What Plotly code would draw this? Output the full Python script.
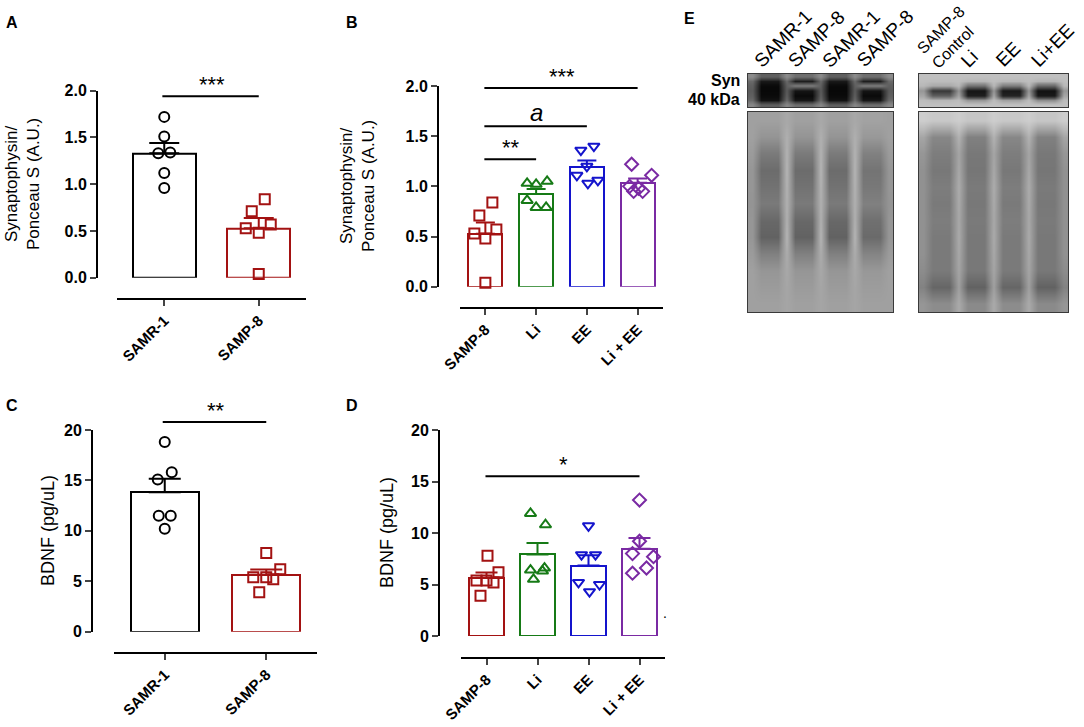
import numpy as np
import plotly.graph_objects as go

W, H = 1084, 727

# ---------------- data ----------------
groups_strain = ["SAMR-1", "SAMP-8"]
groups_treat = ["SAMP-8", "Li", "EE", "Li + EE"]

# synaptophysin / ponceau S (A.U.)
syn_samr1 = [1.72, 1.51, 1.33, 1.34, 1.12, 0.96]
syn_samp8 = [0.84, 0.71, 0.53, 0.57, 0.48, 0.04]
syn_li = [1.03, 1.02, 1.05, 0.86, 0.79, 0.79]
syn_ee = [1.36, 1.40, 1.20, 1.11, 1.03, 1.06]
syn_liee = [1.22, 1.11, 0.95, 0.95, 0.98, 1.00]

# BDNF (pg/uL)
bdnf_samr1 = [18.8, 15.8, 15.1, 11.5, 11.5, 10.2]
bdnf_samp8 = [7.8, 6.2, 5.4, 5.4, 5.2, 3.9]
bdnf_li = [11.9, 10.8, 6.4, 6.6, 6.3, 5.5]
bdnf_ee = [10.7, 7.9, 7.9, 5.2, 5.0, 4.3]
bdnf_liee = [13.2, 9.2, 8.0, 7.7, 6.6, 6.1]

# significance brackets: (from group, to group, level, label)
sig_a = [(0, 1, 1.94, "***")]
sig_b = [(0, 3, 1.98, "***"), (0, 2, 1.60, "<i>a</i>"), (0, 1, 1.27, "**")]
sig_c = [(0, 1, 20.8, "**")]
sig_d = [(0, 3, 15.5, "*")]

# western blot (gray levels 0-255, rows top -> bottom)
blot_lanes_left = ["SAMR-1", "SAMP-8", "SAMR-1", "SAMP-8"]
blot_lanes_right = ["SAMP-8<br>Control", "Li", "EE", "Li+EE"]

syn_gap_left = [140, 105, 95, 90, 95, 105, 135]
syn_samr1_lane = [95, 25, 10, 8, 10, 18, 95]
syn_samp8_lane = [110, 30, 125, 20, 10, 22, 110]
syn_gap_right = [192, 190, 184, 150, 165, 188, 192]
syn_ctrl_lane = [192, 188, 170, 55, 95, 182, 192]
syn_li_lane = [192, 182, 115, 22, 30, 150, 192]
syn_ee_lane = [192, 184, 125, 25, 35, 160, 192]
syn_liee_lane = [192, 180, 105, 18, 25, 140, 192]

pon_edge_left = [160, 160, 155, 150, 150, 148, 150, 150, 155, 160, 160, 160]
pon_streak_left = [168, 175, 178, 180, 178, 176, 176, 180, 172, 168, 166, 165]
pon_lane_a = [160, 148, 122, 108, 114, 122, 104, 98, 128, 150, 155, 160]
pon_lane_b = [162, 152, 128, 116, 120, 128, 112, 106, 132, 152, 156, 160]
pon_edge_right = [205, 165, 150, 145, 145, 145, 145, 145, 145, 140, 130, 150]
pon_streak_right = [205, 178, 165, 168, 172, 170, 168, 170, 168, 165, 160, 170]
pon_lane_c = [200, 135, 125, 120, 125, 122, 125, 122, 122, 122, 102, 140]
pon_lane_d = [198, 128, 120, 118, 122, 120, 122, 120, 120, 120, 98, 138]

RED, GREEN, BLUE, PURPLE = "#a31212", "#167a16", "#1414cc", "#7a2aa3"
FONT = "Liberation Sans, Arial, sans-serif"


def fx(px):
    return px / W


def fy(py):
    return 1 - py / H


fig = go.Figure()


def bar_panel(n, groups, series, colors, symbols, jitter_px, xdom, ydom,
              yax_px, xax_py, ymax, dtick, fmt, cap):
    xa = "x" if n == 1 else "x%d" % n
    ya = "y" if n == 1 else "y%d" % n
    px_per_unit = (xdom[1] - xdom[0]) / len(groups)
    for i, (vals, col, sym, jit) in enumerate(zip(series, colors, symbols, jitter_px)):
        v = np.array(vals)
        mean = v.mean()
        sem = v.std(ddof=1) / np.sqrt(len(v))
        fig.add_trace(go.Bar(
            x=[i], y=[mean], width=0.67, xaxis=xa, yaxis=ya,
            marker=dict(color="white", line=dict(color=col, width=2)),
            error_y=dict(type="data", symmetric=False, array=[sem], arrayminus=[0],
                         color=col, thickness=2, width=cap),
            showlegend=False, hoverinfo="skip"))
        fig.add_trace(go.Scatter(
            x=i + np.array(jit) / px_per_unit, y=v, mode="markers",
            xaxis=xa, yaxis=ya, cliponaxis=False, showlegend=False,
            marker=dict(symbol=sym, size=10, color=col, line=dict(color=col, width=2))))
    lay = {}
    lay["xaxis" if n == 1 else "xaxis%d" % n] = dict(
        domain=[fx(xdom[0]), fx(xdom[1])], anchor="free", position=fy(xax_py),
        range=[-0.5, len(groups) - 0.5], tickvals=list(range(len(groups))),
        ticktext=groups, tickangle=-45, ticks="outside", ticklen=6, tickwidth=2,
        showline=True, linewidth=2, linecolor="black", showgrid=False, zeroline=False,
        automargin=False,
        tickfont=dict(family=FONT, size=15, color="black", weight="bold"))
    lay["yaxis" if n == 1 else "yaxis%d" % n] = dict(
        domain=[fy(ydom[1]), fy(ydom[0])], anchor="free", position=fx(yax_px),
        range=[0, ymax], dtick=dtick, tickformat=fmt, ticks="outside", ticklen=6,
        tickwidth=2, showline=True, linewidth=2, linecolor="black", showgrid=False,
        zeroline=False, automargin=False,
        tickfont=dict(family=FONT, size=16, color="black", weight="bold"))
    fig.update_layout(**lay)
    return xa, ya


def add_sig(xa, ya, ymax, sigs, size):
    for a, b, lev, lab in sigs:
        fig.add_shape(type="line", xref=xa, yref=ya + " domain", x0=a - 0.02, x1=b,
                      y0=lev / ymax, y1=lev / ymax, line=dict(color="black", width=2))
        big = lab.startswith("<i>")
        fig.add_annotation(xref=xa, yref=ya + " domain", x=(a + b) / 2, y=lev / ymax,
                           text=lab, showarrow=False, xanchor="center", yanchor="bottom",
                           yshift=-3 if not big else -2,
                           font=dict(family=FONT, size=24 if big else size, color="black"))


# A
xa, ya = bar_panel(1, groups_strain, [syn_samr1, syn_samp8], ["black", RED],
                   ["circle-open", "square-open"],
                   [[0, 0, -6, 6, 0, 0], [6, -7, -13, 12, 0, 0]],
                   (117, 306), (90.7, 277.7), 97, 299, 2.0, 0.5, ".1f", 15)
add_sig(xa, ya, 2.0, sig_a, 22)

# B
xb, yb = bar_panel(2, groups_treat, [syn_samp8, syn_li, syn_ee, syn_liee],
                   [RED, GREEN, BLUE, PURPLE],
                   ["square-open", "triangle-up-open", "triangle-down-open", "diamond-open"],
                   [[7, -6, -11, 11, 0, 0], [-9, 0, 11, -9, 0, 10],
                    [-6, 7, 0, -10, 1, 11], [-6, 14, -4, 5, 1, -8]],
                   (460, 663), (86, 286.7), 438, 308, 2.0, 0.5, ".1f", 9.5)
add_sig(xb, yb, 2.0, sig_b, 22)

# C
xc, yc = bar_panel(3, groups_strain, [bdnf_samr1, bdnf_samp8], ["black", RED],
                   ["circle-open", "square-open"],
                   [[0, 7, -7, -6, 6, 0], [0, 14, -13, 0, 7, -7]],
                   (114, 317), (430, 631.7), 92, 653, 20, 5, "d", 16)
add_sig(xc, yc, 20, sig_c, 22)

# D
xd, yd = bar_panel(4, groups_treat, [bdnf_samp8, bdnf_li, bdnf_ee, bdnf_liee],
                   [RED, GREEN, BLUE, PURPLE],
                   ["square-open", "triangle-up-open", "triangle-down-open", "diamond-open"],
                   [[1, 12, -10, 0, 7, -6], [-7, 8, -7, 7, 5, -4],
                    [0, -7, 7, -10, 11, 1], [0, 0, -7, 14, 7, -7]],
                   (461, 665), (430, 636), 439, 658, 20, 5, "d", 11)
add_sig(xd, yd, 20, sig_d, 22)
fig.add_annotation(xref="x4 domain", yref="y4", x=1.02, y=2.2, text=".",
                   showarrow=False, font=dict(family=FONT, size=14, color="black"))

# y-axis titles
for x_px, y_px, txt, sz in [(22, 184, "Synaptophysin/<br>Ponceau S (A.U.)", 17),
                            (357, 186, "Synaptophysin/<br>Ponceau S (A.U.)", 17),
                            (48, 531, "BDNF (pg/uL)", 18),
                            (387, 533, "BDNF (pg/uL)", 18)]:
    fig.add_annotation(xref="paper", yref="paper", x=fx(x_px), y=fy(y_px), text=txt,
                       textangle=-90, showarrow=False, xanchor="center", yanchor="middle",
                       font=dict(family=FONT, size=sz, color="black"))

# panel letters
for x_px, y_px, txt in [(12, 23, "A"), (352, 23, "B"), (12, 405, "C"),
                        (352, 405, "D"), (689, 18, "E")]:
    fig.add_annotation(xref="paper", yref="paper", x=fx(x_px), y=fy(y_px), text="<b>%s</b>" % txt,
                       showarrow=False, xanchor="center", yanchor="middle",
                       font=dict(family=FONT, size=16, color="black"))


# ---------------- panel E: blots ----------------
def columns(edge, lanes, gap):
    cols = [edge]
    for k, ln in enumerate(lanes):
        cols += [ln, ln, ln]
        cols.append(gap if k < len(lanes) - 1 else edge)
    return np.array(cols).T


blots = [
    (5, (748, 893), (74, 107), columns(syn_gap_left, [syn_samr1_lane, syn_samp8_lane,
                                                      syn_samr1_lane, syn_samp8_lane], syn_gap_left)),
    (6, (748, 893), (112, 312), columns(pon_edge_left, [pon_lane_a, pon_lane_a, pon_lane_a,
                                                        pon_lane_b], pon_streak_left)),
    (7, (919, 1068), (74, 107), columns(syn_gap_right, [syn_ctrl_lane, syn_li_lane,
                                                        syn_ee_lane, syn_liee_lane], syn_gap_right)),
    (8, (919, 1068), (112, 312), columns(pon_edge_right, [pon_lane_c, pon_lane_d, pon_lane_c,
                                                          pon_lane_d], pon_streak_right)),
]
for n, xdom, ydom, z in blots:
    fig.add_trace(go.Heatmap(z=z, xaxis="x%d" % n, yaxis="y%d" % n, zmin=0, zmax=255,
                             colorscale=[[0, "black"], [1, "white"]], showscale=False,
                             zsmooth="best", hoverinfo="skip"))
    ax = dict(showticklabels=False, ticks="", showgrid=False, zeroline=False,
              showline=True, mirror=True, linecolor="#3a3a3a", linewidth=1, automargin=False)
    fig.update_layout(**{
        "xaxis%d" % n: dict(ax, domain=[fx(xdom[0]), fx(xdom[1])], anchor="y%d" % n,
                            range=[-0.5, z.shape[1] - 0.5]),
        "yaxis%d" % n: dict(ax, domain=[fy(ydom[1]), fy(ydom[0])], anchor="x%d" % n,
                            range=[z.shape[0] - 0.5, -0.5]),
    })

for xa_e, lanes in [("x5", blot_lanes_left), ("x7", blot_lanes_right)]:
    for k, lab in enumerate(lanes):
        two = "<br>" in lab
        fig.add_annotation(xref=xa_e, yref="paper", x=2 + 4 * k, y=fy(74), text=lab,
                           textangle=-45, showarrow=False, xanchor="left", yanchor="bottom",
                           xshift=-30 if two else -22, align="left",
                           font=dict(family=FONT, size=16 if two else 19, color="black"))

for y_px, txt in [(81, "Syn"), (99, "40 kDa")]:
    fig.add_annotation(xref="paper", yref="paper", x=fx(742), y=fy(y_px), text="<b>%s</b>" % txt,
                       xanchor="right", yanchor="middle", showarrow=False,
                       font=dict(family=FONT, size=16, color="black"))

fig.update_layout(width=W, height=H, margin=dict(l=0, r=0, t=0, b=0, autoexpand=False),
                  paper_bgcolor="white", plot_bgcolor="white", bargap=0,
                  font=dict(family=FONT, color="black"))
fig.write_html("out.html", config={"displayModeBar": False},
               post_script="document.body.style.margin='0';")
